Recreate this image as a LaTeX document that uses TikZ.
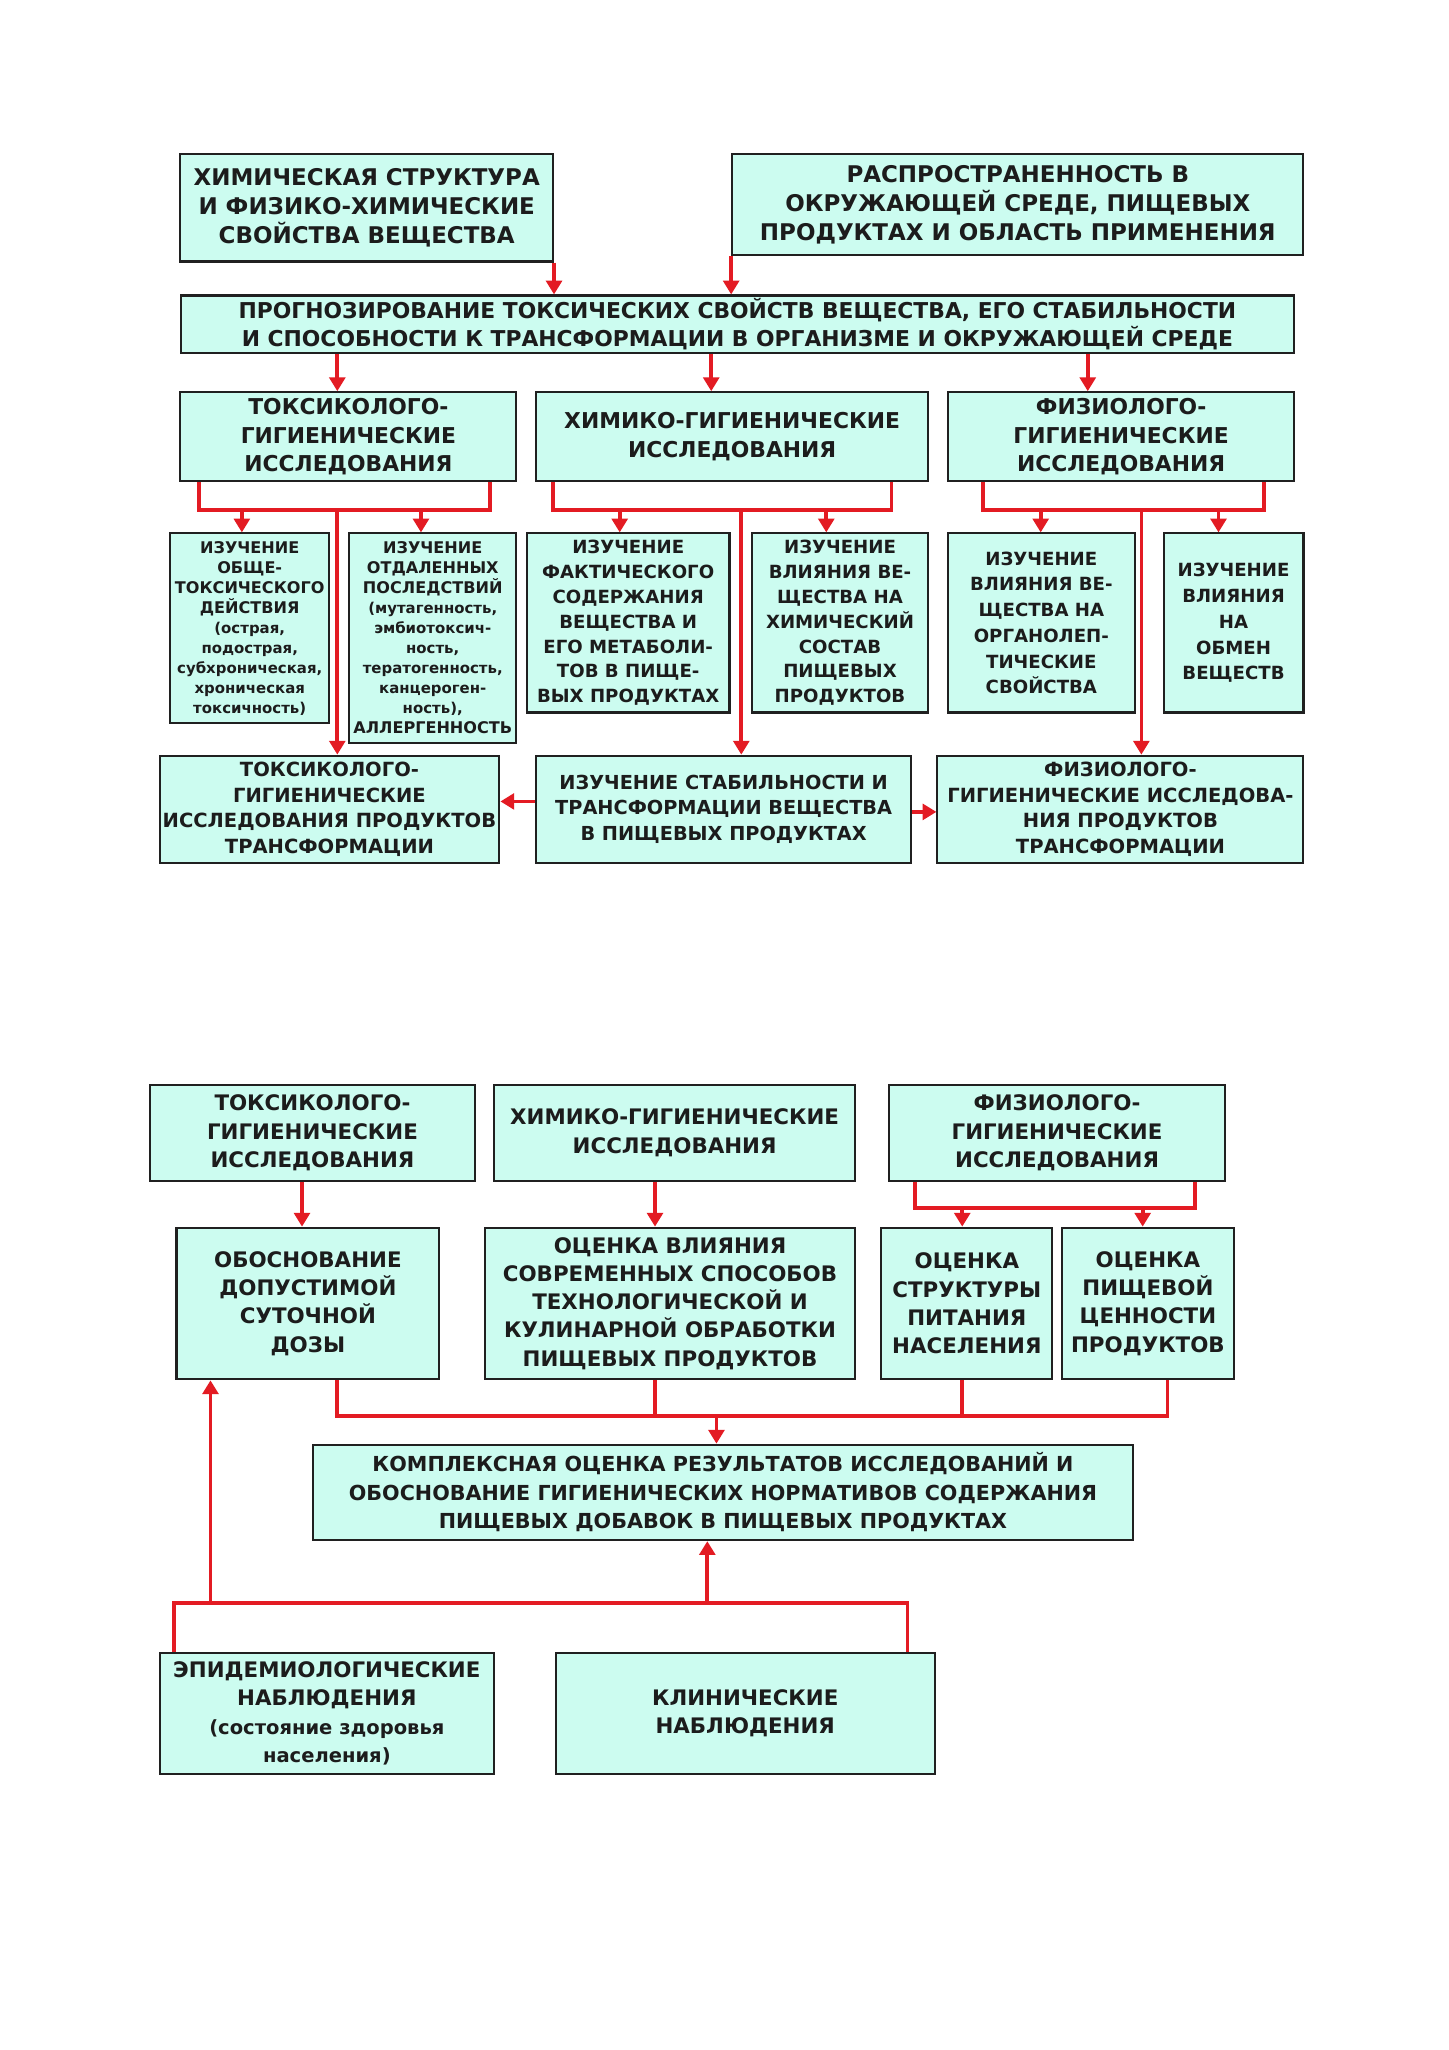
\documentclass[tikz,border=0pt]{standalone}
\usepackage{fontspec}
\setmainfont{DejaVu Sans}
\usetikzlibrary{arrows.meta}
\definecolor{Ink}{HTML}{1C1C1C}
\definecolor{Frame}{HTML}{202020}
\definecolor{Aqua}{HTML}{CCFCF0}
\definecolor{Lead}{HTML}{E31B23}
\newcommand{\txsize}[2]{\fontsize{#1pt}{#2pt}\selectfont}
\newcommand{\lc}[1]{{\txsize{6.5}{8.6}#1}}
\tikzset{
  >=Triangle,
  every node/.style={text=Ink},
  box/.style={draw=Frame, fill=Aqua, line width=0.9pt, inner sep=0pt, align=center},
  link/.style={draw=Lead, line width=1.6pt},
  arr/.style={link, -{Triangle[length=2.1mm,width=2.4mm]}},
}

\begin{document}
\begin{tikzpicture}[x=0.02cm,y=-0.02cm]
  \path[fill=white] (0,0) rectangle (1108,1568);

  % Upper scheme: the two starting points and the forecast.
  \node[box, minimum width=5.70cm, minimum height=1.64cm, font=\bfseries\txsize{10}{12.6}]
    (chem) at (280.5,159)
    {ХИМИЧЕСКАЯ СТРУКТУРА\\И ФИЗИКО-ХИМИЧЕСКИЕ\\СВОЙСТВА ВЕЩЕСТВА};
  \node[box, minimum width=8.74cm, minimum height=1.54cm, font=\bfseries\txsize{10}{12.6}]
    (spread) at (778.5,156.5)
    {РАСПРОСТРАНЕННОСТЬ В\\ОКРУЖАЮЩЕЙ СРЕДЕ, ПИЩЕВЫХ\\ПРОДУКТАХ И ОБЛАСТЬ ПРИМЕНЕНИЯ};
  \node[box, minimum width=17.04cm, minimum height=0.88cm, font=\bfseries\txsize{9.5}{12.2}]
    (forecast) at (564,248)
    {ПРОГНОЗИРОВАНИЕ ТОКСИЧЕСКИХ СВОЙСТВ ВЕЩЕСТВА, ЕГО СТАБИЛЬНОСТИ\\
     И СПОСОБНОСТИ К ТРАНСФОРМАЦИИ В ОРГАНИЗМЕ И ОКРУЖАЮЩЕЙ СРЕДЕ};

  % Three branches of research.
  \node[box, minimum width=5.14cm, minimum height=1.36cm, font=\bfseries\txsize{9.5}{12.4}]
    (toxres) at (266.5,334) {ТОКСИКОЛОГО-\\ГИГИЕНИЧЕСКИЕ\\ИССЛЕДОВАНИЯ};
  \node[box, minimum width=6.00cm, minimum height=1.36cm, font=\bfseries\txsize{9.5}{12.4}]
    (chemres) at (560,334) {ХИМИКО-ГИГИЕНИЧЕСКИЕ\\ИССЛЕДОВАНИЯ};
  \node[box, minimum width=5.30cm, minimum height=1.36cm, font=\bfseries\txsize{9.5}{12.4}]
    (physres) at (857.5,334) {ФИЗИОЛОГО-\\ГИГИЕНИЧЕСКИЕ\\ИССЛЕДОВАНИЯ};

  % Individual studies.
  \node[box, minimum width=2.44cm, minimum height=2.90cm, font=\bfseries\txsize{7}{8.7}]
    (gentox) at (191,480.5)
    {ИЗУЧЕНИЕ\\ОБЩЕ-\\ТОКСИЧЕСКОГО\\ДЕЙСТВИЯ\\\lc{(острая,}\\\lc{подострая,}\\
     \lc{субхроническая,}\\\lc{хроническая}\\\lc{токсичность)}};
  \node[box, minimum width=2.56cm, minimum height=3.20cm, font=\bfseries\txsize{7}{8.7}]
    (remote) at (331,488)
    {ИЗУЧЕНИЕ\\ОТДАЛЕННЫХ\\ПОСЛЕДСТВИЙ\\\lc{(мутагенность,}\\\lc{эмбиотоксич-}\\
     \lc{ность,}\\\lc{тератогенность,}\\\lc{канцероген-}\\\lc{ность),}\\АЛЛЕРГЕННОСТЬ};
  \node[box, minimum width=3.10cm, minimum height=2.74cm, font=\bfseries\txsize{7.9}{10.8}]
    (content) at (480.5,476.5)
    {ИЗУЧЕНИЕ\\ФАКТИЧЕСКОГО\\СОДЕРЖАНИЯ\\ВЕЩЕСТВА И\\ЕГО МЕТАБОЛИ-\\ТОВ В ПИЩЕ-\\ВЫХ ПРОДУКТАХ};
  \node[box, minimum width=2.70cm, minimum height=2.74cm, font=\bfseries\txsize{7.9}{10.8}]
    (compos) at (642.5,476.5)
    {ИЗУЧЕНИЕ\\ВЛИЯНИЯ ВЕ-\\ЩЕСТВА НА\\ХИМИЧЕСКИЙ\\СОСТАВ\\ПИЩЕВЫХ\\ПРОДУКТОВ};
  \node[box, minimum width=2.86cm, minimum height=2.74cm, font=\bfseries\txsize{7.9}{11.2}]
    (organo) at (796.5,476.5)
    {ИЗУЧЕНИЕ\\ВЛИЯНИЯ ВЕ-\\ЩЕСТВА НА\\ОРГАНОЛЕП-\\ТИЧЕСКИЕ\\СВОЙСТВА};
  \node[box, minimum width=2.14cm, minimum height=2.74cm, font=\bfseries\txsize{7.9}{11.2}]
    (metab) at (943.5,476.5)
    {ИЗУЧЕНИЕ\\ВЛИЯНИЯ\\НА\\ОБМЕН\\ВЕЩЕСТВ};

  % Transformation products.
  \node[box, minimum width=5.20cm, minimum height=1.64cm, font=\bfseries\txsize{8.5}{11.1}]
    (toxtr) at (252,619)
    {ТОКСИКОЛОГО-\\ГИГИЕНИЧЕСКИЕ\\ИССЛЕДОВАНИЯ ПРОДУКТОВ\\ТРАНСФОРМАЦИИ};
  \node[box, minimum width=5.74cm, minimum height=1.64cm, font=\bfseries\txsize{8.4}{11.2}]
    (stab) at (553.5,619)
    {ИЗУЧЕНИЕ СТАБИЛЬНОСТИ И\\ТРАНСФОРМАЦИИ ВЕЩЕСТВА\\В ПИЩЕВЫХ ПРОДУКТАХ};
  \node[box, minimum width=5.60cm, minimum height=1.64cm, font=\bfseries\txsize{8.5}{11.1}]
    (phystr) at (857,619)
    {ФИЗИОЛОГО-\\ГИГИЕНИЧЕСКИЕ ИССЛЕДОВА-\\НИЯ ПРОДУКТОВ\\ТРАНСФОРМАЦИИ};

  \draw[arr] (chem.south east) -- (forecast.north -| chem.south east);
  \draw[arr] (spread.south west) -- (forecast.north -| spread.south west);
  \draw[arr] (forecast.south -| 258,0) -- (toxres.north -| 258,0);
  \draw[arr] (forecast.south -| 544,0) -- (chemres.north -| 544,0);
  \draw[arr] (forecast.south -| 832,0) -- (physres.north -| 832,0);

  % Brackets under the branches.
  \coordinate (toxbar) at (258,390);
  \draw[link] (toxres.south -| 152,0) |- (toxbar) -| (toxres.south -| 375,0);
  \draw[arr] (toxbar -| 185,0) -- (gentox.north -| 185,0);
  \draw[arr] (toxbar -| 322,0) -- (remote.north -| 322,0);
  \draw[arr] (toxbar) -- (toxtr.north -| toxbar);

  \coordinate (chembar) at (567,390);
  \draw[link] (chemres.south -| 423,0) |- (chembar) -| (chemres.south -| 682,0);
  \draw[arr] (chembar -| 474,0) -- (content.north -| 474,0);
  \draw[arr] (chembar -| 632,0) -- (compos.north -| 632,0);
  \draw[arr] (chembar) -- (stab.north -| chembar);

  \coordinate (physbar) at (873,390);
  \draw[link] (physres.south -| 752,0) |- (physbar) -| (physres.south -| 967,0);
  \draw[arr] (physbar -| 796,0) -- (organo.north -| 796,0);
  \draw[arr] (physbar -| 932,0) -- (metab.north -| 932,0);
  \draw[arr] (physbar) -- (phystr.north -| physbar);

  \draw[arr] (stab.west |- 0,613) -- (toxtr.east |- 0,613);
  \draw[arr] (stab.east |- 0,621) -- (phystr.west |- 0,621);

  % Lower scheme: from research to hygienic standards.
  \node[box, minimum width=4.96cm, minimum height=1.46cm, font=\bfseries\txsize{9.3}{12.4}]
    (toxres2) at (239,866.5) {ТОКСИКОЛОГО-\\ГИГИЕНИЧЕСКИЕ\\ИССЛЕДОВАНИЯ};
  \node[box, minimum width=5.52cm, minimum height=1.46cm, font=\bfseries\txsize{9.3}{12.4}]
    (chemres2) at (516,866.5) {ХИМИКО-ГИГИЕНИЧЕСКИЕ\\ИССЛЕДОВАНИЯ};
  \node[box, minimum width=5.14cm, minimum height=1.46cm, font=\bfseries\txsize{9.3}{12.4}]
    (physres2) at (808.5,866.5) {ФИЗИОЛОГО-\\ГИГИЕНИЧЕСКИЕ\\ИССЛЕДОВАНИЯ};

  \node[box, minimum width=4.02cm, minimum height=2.32cm, font=\bfseries\txsize{9.3}{12.4}]
    (dose) at (235.5,997) {ОБОСНОВАНИЕ\\ДОПУСТИМОЙ\\СУТОЧНОЙ\\ДОЗЫ};
  \node[box, minimum width=5.66cm, minimum height=2.32cm, font=\bfseries\txsize{9.3}{12.3}]
    (tech) at (512.5,997)
    {ОЦЕНКА ВЛИЯНИЯ\\СОВРЕМЕННЫХ СПОСОБОВ\\ТЕХНОЛОГИЧЕСКОЙ И\\КУЛИНАРНОЙ ОБРАБОТКИ\\ПИЩЕВЫХ ПРОДУКТОВ};
  \node[box, minimum width=2.62cm, minimum height=2.32cm, font=\bfseries\txsize{9.3}{12.4}]
    (diet) at (739.5,997) {ОЦЕНКА\\СТРУКТУРЫ\\ПИТАНИЯ\\НАСЕЛЕНИЯ};
  \node[box, minimum width=2.64cm, minimum height=2.32cm, font=\bfseries\txsize{9.3}{12.4}]
    (value) at (878,997) {ОЦЕНКА\\ПИЩЕВОЙ\\ЦЕННОСТИ\\ПРОДУКТОВ};

  \node[box, minimum width=12.56cm, minimum height=1.46cm, font=\bfseries\txsize{9}{12.4}]
    (final) at (553,1141.5)
    {КОМПЛЕКСНАЯ ОЦЕНКА РЕЗУЛЬТАТОВ ИССЛЕДОВАНИЙ И\\
     ОБОСНОВАНИЕ ГИГИЕНИЧЕСКИХ НОРМАТИВОВ СОДЕРЖАНИЯ\\
     ПИЩЕВЫХ ДОБАВОК В ПИЩЕВЫХ ПРОДУКТАХ};

  \node[box, minimum width=5.12cm, minimum height=1.86cm, font=\bfseries\txsize{9.3}{12.4}]
    (epid) at (250,1310.5)
    {ЭПИДЕМИОЛОГИЧЕСКИЕ\\НАБЛЮДЕНИЯ\\{\txsize{8.5}{12}(состояние здоровья}\\{\txsize{8.5}{12}населения)}};
  \node[box, minimum width=5.80cm, minimum height=1.86cm, font=\bfseries\txsize{9.3}{12.4}]
    (clin) at (570,1310.5) {КЛИНИЧЕСКИЕ\\НАБЛЮДЕНИЯ};

  \draw[arr] (toxres2.south -| 231,0) -- (dose.north -| 231,0);
  \draw[arr] (chemres2.south -| 501,0) -- (tech.north -| 501,0);

  \coordinate (physbar2) at (805,924);
  \draw[link] (physres2.south -| 700,0) |- (physbar2) -| (physres2.south -| 914,0);
  \draw[arr] (physbar2 -| 736,0) -- (diet.north -| 736,0);
  \draw[arr] (physbar2 -| 874,0) -- (value.north -| 874,0);

  % All estimates merge into the final assessment.
  \coordinate (merge) at (548,1083);
  \draw[link] (dose.south -| 258,0) |- (merge -| 893,0) -- (value.south -| 893,0);
  \draw[link] (tech.south -| 501,0) -- (merge -| 501,0);
  \draw[link] (diet.south -| 736,0) -- (merge -| 736,0);
  \draw[arr] (merge) -- (final.north -| merge);

  % Observations feed back from below.
  \coordinate (obs) at (541,1226);
  \draw[link] (epid.north -| 133,0) |- (obs -| 694,0) -- (clin.north -| 694,0);
  \draw[arr] (obs) -- (final.south -| obs);
  \draw[arr] (obs -| 161,0) -- (dose.south -| 161,0);
\end{tikzpicture}
\end{document}
